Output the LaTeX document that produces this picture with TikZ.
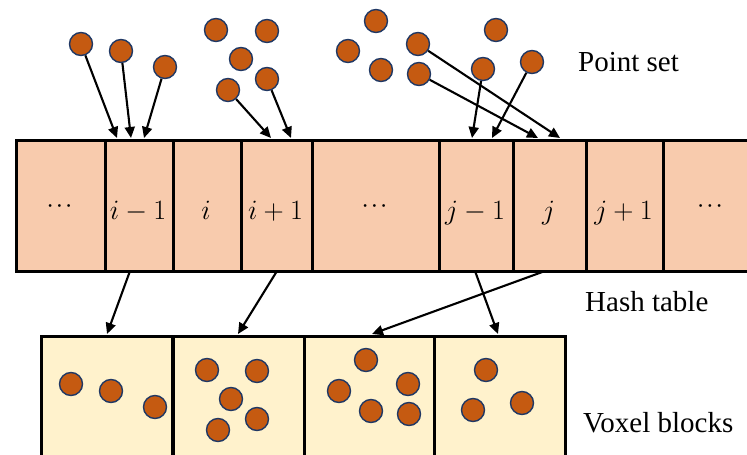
\RequirePackage{fix-cm}
\documentclass[tikz,border=0pt]{standalone}
\usepackage{fontspec}
\setmainfont{Liberation Serif}
\usetikzlibrary{arrows.meta}

\definecolor{hashfill}{HTML}{F8CBAD}
\definecolor{voxfill}{HTML}{FFF2CC}
\definecolor{ptfill}{HTML}{C55A11}
\definecolor{ptedge}{HTML}{203864}

\tikzset{
  cell/.style={draw=black, line width=3pt, fill=hashfill, anchor=north west,
    minimum height=131pt, inner sep=0pt},
  voxel/.style={draw=black, line width=3pt, fill=voxfill, anchor=north west,
    minimum height=150pt, minimum width=131pt, inner sep=0pt},
  pt/.style={circle, draw=ptedge, line width=1.4pt, fill=ptfill,
    minimum size=23pt, inner sep=0pt},
  link/.style={line width=2.1pt, -{Triangle[length=11pt,width=10pt]}},
  celltext/.style={font=\fontsize{28}{30}\selectfont, anchor=base},
  dotstext/.style={font=\fontsize{18}{20}\selectfont\boldmath},
  caption/.style={font=\fontsize{29}{32}\selectfont, anchor=base west, inner sep=0pt},
}

\begin{document}
\begin{tikzpicture}[x=1pt, y=-1pt]
\useasboundingbox (0,0) rectangle (747,455);

% hash table cells
\node[cell, minimum width=89pt]  (c1) at (15,139)  {};
\node[cell, minimum width=68pt]  (c2) at (104,139) {};
\node[cell, minimum width=68pt]  (c3) at (172,139) {};
\node[cell, minimum width=71pt]  (c4) at (240,139) {};
\node[cell, minimum width=127pt] (c5) at (311,139) {};
\node[cell, minimum width=74pt]  (c6) at (438,139) {};
\node[cell, minimum width=73pt]  (c7) at (512,139) {};
\node[cell, minimum width=77pt]  (c8) at (585,139) {};
\node[cell, minimum width=98pt]  (c9) at (662,139) {};

% cell labels
\node[dotstext] (t1) at (59.5,206) {$\cdots$};
\node[celltext] (t2) at (138,219) {$i-1$};
\node[celltext] (t3) at (206,219) {$i$};
\node[celltext] (t4) at (275.5,219) {$i+1$};
\node[dotstext] (t5) at (374.5,206) {$\cdots$};
\node[celltext] (t6) at (475,219) {$j-1$};
\node[celltext] (t7) at (548.5,219) {$j$};
\node[celltext] (t8) at (623.5,219) {$j+1$};
\node[dotstext] (t9) at (710,206) {$\cdots$};

% voxel blocks
\node[voxel] (v1) at (40,335)  {};
\node[voxel] (v2) at (172,335) {};
\node[voxel] (v3) at (303,335) {};
\node[voxel] (v4) at (433,335) {};

% point set
\node[pt] (p1)  at (81,44)  {};
\node[pt] (p2)  at (121,51) {};
\node[pt] (p3)  at (165,67) {};
\node[pt] (p4)  at (216,30) {};
\node[pt] (p5)  at (267,31) {};
\node[pt] (p6)  at (241,59) {};
\node[pt] (p7)  at (267,79) {};
\node[pt] (p8)  at (228,90) {};
\node[pt] (p9)  at (348,51) {};
\node[pt] (p10) at (376,21) {};
\node[pt] (p11) at (381,70) {};
\node[pt] (p12) at (418,44) {};
\node[pt] (p13) at (419,74) {};
\node[pt] (p14) at (496,30) {};
\node[pt] (p15) at (483,69) {};
\node[pt] (p16) at (532,62) {};

% points stored in the voxel blocks
\node[pt] (q1)  at (71,384)  {};
\node[pt] (q2)  at (111,391) {};
\node[pt] (q3)  at (155,407) {};
\node[pt] (q4)  at (207,370) {};
\node[pt] (q5)  at (257,371) {};
\node[pt] (q6)  at (231,399) {};
\node[pt] (q7)  at (257,419) {};
\node[pt] (q8)  at (218,430) {};
\node[pt] (q9)  at (366,360) {};
\node[pt] (q10) at (339,391) {};
\node[pt] (q11) at (408,384) {};
\node[pt] (q12) at (371,411) {};
\node[pt] (q13) at (409,414) {};
\node[pt] (q14) at (486,370) {};
\node[pt] (q15) at (473,410) {};
\node[pt] (q16) at (522,403) {};

% entry points on the top of the hash table
\coordinate (a1) at (117,138);
\coordinate (a2) at (131,138);
\coordinate (a3) at (144,138);
\coordinate (a4) at (271,138);
\coordinate (a5) at (291,138);
\coordinate (a6) at (472,138);
\coordinate (a7) at (492,138);
\coordinate (a8) at (538,138);
\coordinate (a9) at (560,138);

\draw[link] (p1)  -- (a1);
\draw[link] (p2)  -- (a2);
\draw[link] (p3)  -- (a3);
\draw[link] (p8)  -- (a4);
\draw[link] (p7)  -- (a5);
\draw[link] (p15) -- (a6);
\draw[link] (p16) -- (a7);
\draw[link] (p13) -- (a8);
\draw[link] (p12) -- (a9);

% hash table entries pointing to voxel blocks
\coordinate (b1) at (130,271);
\coordinate (b2) at (277,271);
\coordinate (b3) at (475,271);
\coordinate (b4) at (545,271);
\coordinate (d1) at (107,334);
\coordinate (d2) at (238,334);
\coordinate (d3) at (498,334);
\coordinate (d4) at (372,334);

\draw[link] (b1) -- (d1);
\draw[link] (b2) -- (d2);
\draw[link] (b3) -- (d3);
\draw[link] (b4) -- (d4);

% captions
\node[caption] (l1) at (578,71)  {Point set};
\node[caption] (l2) at (585,311) {Hash table};
\node[caption] (l3) at (583,432) {Voxel blocks};
\end{tikzpicture}
\end{document}
